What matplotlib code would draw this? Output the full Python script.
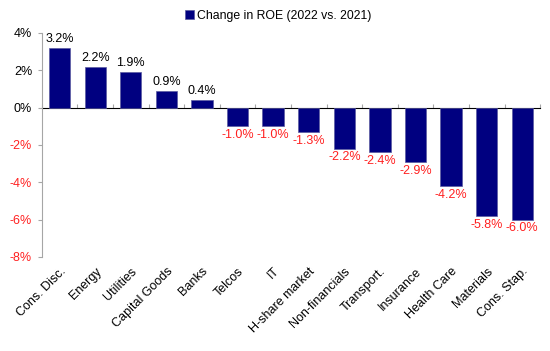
import numpy as np
import matplotlib.pyplot as plt

plt.rcParams['font.family'] = ['Liberation Sans', 'DejaVu Sans']

# Data
sectors = ['Cons. Disc.', 'Energy', 'Utilities', 'Capital Goods', 'Banks', 'Telcos', 'IT',
           'H-share market', 'Non-financials', 'Transport.', 'Insurance', 'Health Care',
           'Materials', 'Cons. Stap.']
roe_change = [3.2, 2.2, 1.9, 0.9, 0.4, -1.0, -1.0, -1.3, -2.2, -2.4, -2.9, -4.2, -5.8, -6.0]
yticks = [4, 2, 0, -2, -4, -6, -8]

navy = '#000080'
red = '#ff2020'
grey = '#a6a6a6'

fig = plt.figure(figsize=(5.5, 3.51), dpi=100)
ax = fig.add_axes([0.076, 0.268, 0.906, 0.638])

x = np.arange(len(sectors))
ax.bar(x, roe_change, width=0.6, color=navy, edgecolor='#5a5aa0', linewidth=0.5,
       label='Change in ROE (2022 vs. 2021)', zorder=3)

# value labels
for xi, v in zip(x, roe_change):
    if v >= 0:
        ax.text(xi, v + 0.15, f'{v:.1f}%', ha='center', va='bottom', fontsize=9, color='black')
    else:
        ax.text(xi, v - 0.15, f'{v:.1f}%', ha='center', va='top', fontsize=9, color=red)

ax.set_xlim(-0.5, len(sectors) - 0.5)
ax.set_ylim(-8, 4)
ax.set_yticks(yticks)
ax.set_yticklabels([f'{t}%' for t in yticks], fontsize=9)
for lbl, t in zip(ax.get_yticklabels(), yticks):
    lbl.set_color(red if t < 0 else 'black')
ax.tick_params(axis='y', length=3, color=grey, pad=4)

ax.set_xticks(x)
ax.set_xticklabels(sectors, rotation=45, ha='right', rotation_mode='anchor', fontsize=9)
ax.tick_params(axis='x', length=0, pad=6)

for s in ['top', 'right', 'bottom']:
    ax.spines[s].set_visible(False)
ax.spines['left'].set_color(grey)

# zero line with category-boundary ticks
sec = ax.secondary_xaxis(8 / 12)
sec.set_xticks(np.arange(len(sectors) + 1) - 0.5)
sec.set_xticklabels([])
sec.tick_params(axis='x', direction='out', length=3, color=grey)
sec.spines['bottom'].set_color(grey)

ax.legend(loc='upper left', bbox_to_anchor=(0.278, 1.125), frameon=False, fontsize=8.8,
          handlelength=0.7, handleheight=0.7, handletextpad=0.3, borderaxespad=0)

fig.savefig('out.png', dpi=100)
